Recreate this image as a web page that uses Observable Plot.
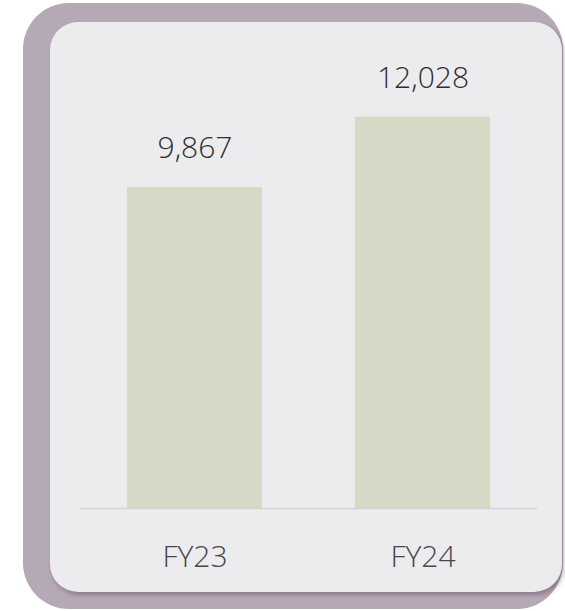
<!DOCTYPE html>
<html>
<head>
<meta charset="utf-8">
<script src="https://cdn.jsdelivr.net/npm/d3@7"></script>
<script src="https://cdn.jsdelivr.net/npm/@observablehq/plot@0.6"></script>
<style>
  html, body { margin: 0; padding: 0; background: #ffffff; width: 565px; height: 611px; overflow: hidden; }
  #back { position: absolute; left: 23px; top: 3px; width: 540px; height: 606px; background: #b6a9b6; border-radius: 46px; }
  #card { position: absolute; left: 50px; top: 22px; width: 512px; height: 570px; background: #ececef; border-radius: 28px; box-shadow: 2px 3px 4px rgba(60,40,60,0.35); }
  #chart { position: absolute; left: 0; top: 0; }
</style>
</head>
<body>
<div id="back"></div>
<div id="card"></div>
<div id="chart"></div>
<script>
const categories = ["FY23", "FY24"];
const values = [9867, 12028];
const data = categories.map((c, i) => ({ year: c, value: values[i] }));

const chart = Plot.plot({
  width: 565,
  height: 611,
  marginLeft: 80,
  marginRight: 28,
  marginTop: 20,
  marginBottom: 103,
  style: { background: "transparent", fontFamily: "'Open Sans', sans-serif", overflow: "visible" },
  x: { domain: categories, paddingInner: 0.41, paddingOuter: 0.203 },
  y: { domain: [0, 15000], axis: null },
  marks: [
    Plot.barY(data, { x: "year", y: "value", fill: "#d6d9c5" }),
    Plot.ruleY([0], { stroke: "#d3d3d7", strokeWidth: 1.5 }),
    Plot.text(data, { x: "year", y: "value", text: d => d3.format(",")(d.value), lineAnchor: "bottom", dy: -29, fontSize: 30, fontWeight: 300, fill: "#2e2e2e" }),
    Plot.axisX({ tickSize: 0, tickPadding: 37, fontSize: 30, fontWeight: 300, color: "#474747", label: null })
  ]
});
document.getElementById("chart").appendChild(chart);
</script>
</body>
</html>
